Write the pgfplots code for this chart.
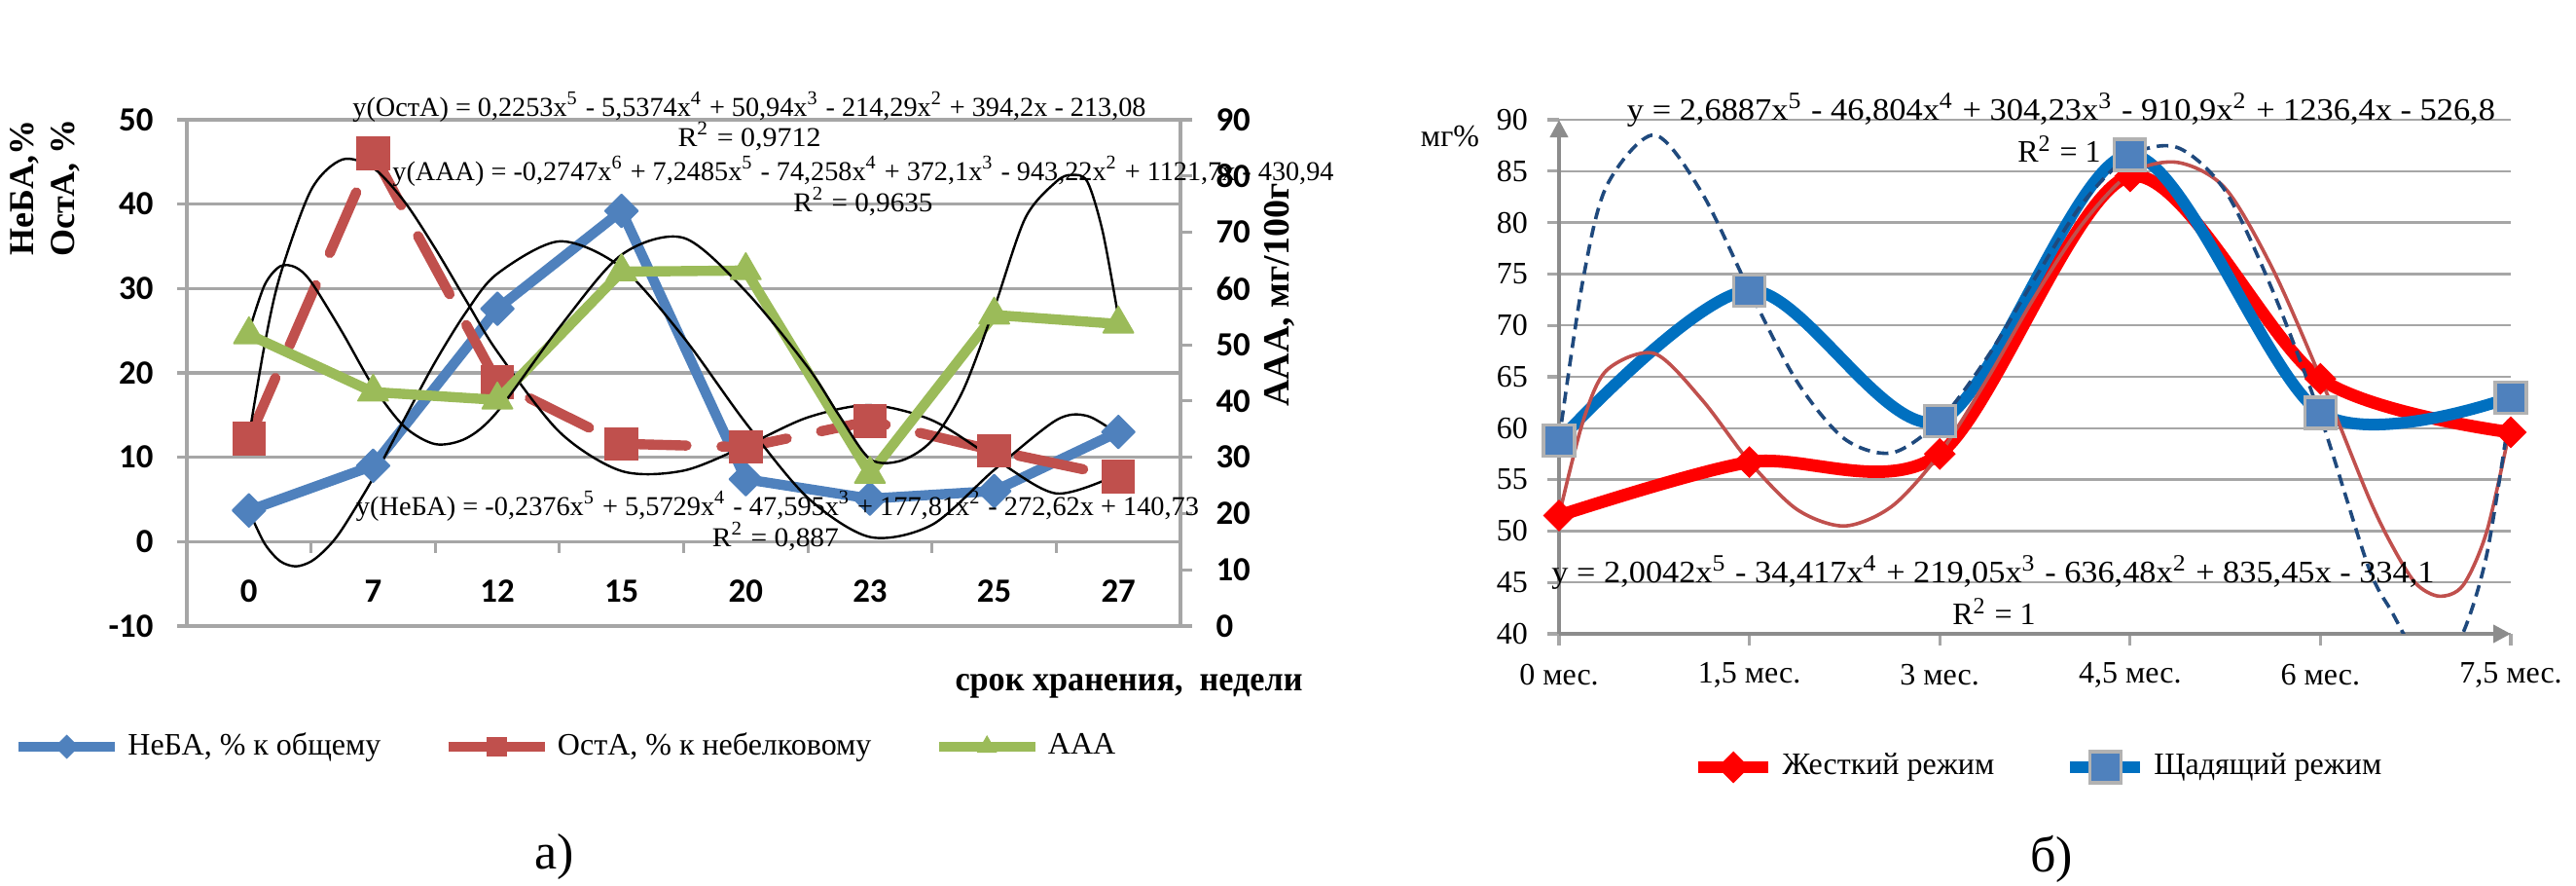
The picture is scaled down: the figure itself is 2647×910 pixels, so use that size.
\documentclass[border=0pt]{standalone}
\usepackage{pgfplots}
\pgfplotsset{compat=1.18}
\usepackage{fontspec}
\setmainfont{Liberation Serif}
\newfontfamily\calib{Carlito}
\usetikzlibrary{arrows.meta}
\definecolor{xblue}{HTML}{4F81BD}
\definecolor{xred}{HTML}{C0504D}
\definecolor{xgreen}{HTML}{9BBB59}
\definecolor{rred}{HTML}{FF0000}
\definecolor{rblue}{HTML}{0070C0}
\definecolor{navy}{HTML}{1F497D}
\definecolor{gridc}{HTML}{A6A6A6}
\definecolor{axisc}{HTML}{8C8C8C}
\newcommand{\fw}[2]{\resizebox{#1}{\height}{#2}}
\newcommand{\sq}[1]{\textsuperscript{#1}}
\begin{document}
\begin{tikzpicture}[x=0.25pt,y=0.25pt]
\path[use as bounding box] (0,0) rectangle (2647,910);

% ===== panel a, primary axis
\begin{axis}[
  at={(48pt,66.75pt)}, anchor=south west, scale only axis,
  width=255.25pt, height=130pt,
  xmin=-0.5, xmax=7.5, ymin=-10, ymax=50,
  axis x line*=bottom, axis y line*=left,
  axis line style={draw=gridc, line width=0.8pt},
  xtick={0,1,2,3,4,5,6,7}, xticklabels={0,7,12,15,20,23,25,27},
  ytick={-10,0,10,20,30,40,50},
  ymajorgrids, grid style={draw=gridc, line width=0.8pt},
  tick align=outside, major tick length=2.5pt,
  xtick style={draw=none}, ytick style={draw=gridc, line width=0.8pt},
  tick label style={font=\calib\bfseries\fontsize{8.7}{10}\selectfont},
  /pgf/number format/assume math mode=true,
  xticklabel style={anchor=center, yshift=11.5pt},
  yticklabel style={xshift=-2.6pt},
  clip=false,
  legend style={at={(-0.1753,-0.2385)}, anchor=west, draw=none, fill=none,
    inner sep=0pt, legend columns=3, font=\fontsize{8}{9.6}\selectfont,
    /tikz/every even column/.append style={column sep=14pt}},
  legend cell align=left,
  legend image code/.code={\draw[mark repeat=2,mark phase=2,#1] plot coordinates {(0pt,0pt) (12.4pt,0pt) (24.8pt,0pt)};},
]
% x axis line at 0 with boundary ticks
\draw[gridc, line width=0.8pt] (axis cs:-0.5,0) -- (axis cs:7.5,0);
\draw[gridc, line width=0.8pt] (axis cs:0.5,0) -- ++(0pt,-3pt);
\draw[gridc, line width=0.8pt] (axis cs:1.5,0) -- ++(0pt,-3pt);
\draw[gridc, line width=0.8pt] (axis cs:2.5,0) -- ++(0pt,-3pt);
\draw[gridc, line width=0.8pt] (axis cs:3.5,0) -- ++(0pt,-3pt);
\draw[gridc, line width=0.8pt] (axis cs:4.5,0) -- ++(0pt,-3pt);
\draw[gridc, line width=0.8pt] (axis cs:5.5,0) -- ++(0pt,-3pt);
\draw[gridc, line width=0.8pt] (axis cs:6.5,0) -- ++(0pt,-3pt);

\addplot[forget plot, xblue, line width=2.6pt, line join=round, mark=square*, mark size=3pt,
  mark options={rotate=45, solid, line width=0.4pt}]
  coordinates {(0,3.7) (1,9.0) (2,27.6) (3,39.2) (4,7.4) (5,5.1) (6,6.0) (7,13.0)};
\addplot[forget plot, xred, line width=2.6pt, line cap=round, dash pattern=on 17pt off 9pt,
  mark=square*, mark size=4.1pt, mark options={solid, line width=0.4pt}]
  coordinates {(0,12.2) (1,46.0) (2,18.9) (3,11.6) (4,11.2) (5,14.3) (6,10.8) (7,7.7)};
% trend lines
\addplot[forget plot, black, line width=0.6pt, smooth] coordinates {
 (0,3.66) (0.125,-0.20) (0.25,-2.30) (0.375,-2.93) (0.5,-2.35) (0.625,-0.81) (0.75,1.48)
 (1,7.53) (1.25,14.49) (1.5,21.31) (1.75,27.24) (2,31.76) (2.5,35.59) (3,32.49)
 (3.5,24.20) (4,14.07) (4.5,5.19) (5,0.55) (5.5,2.0) (6,8.5) (6.5,14.4) (6.75,14.9) (7,12.7)};
\addplot[forget plot, black, line width=0.6pt, smooth] coordinates {
 (0,12.46) (0.125,23.25) (0.25,31.50) (0.5,41.67) (0.75,45.28) (1,44.29) (1.25,40.34)
 (1.5,34.74) (1.75,28.54) (2,22.51) (2.5,13.00) (3,8.37) (3.5,8.42) (4,11.36) (4.5,14.73)
 (5,16.18) (5.5,14.39) (6,9.85) (6.5,5.71) (7,8.0)};

\addlegendimage{xblue, line width=2.6pt, mark=square*, mark size=2pt, mark options={rotate=45, line width=0.4pt}}
\addlegendentry{НеБА, \% к общему}
\addlegendimage{xred, line width=2.6pt, mark=square*, mark size=2.4pt, mark options={line width=0.4pt}}
\addlegendentry{ОстА, \% к небелковому}
\addlegendimage{xgreen, line width=2.6pt, mark=triangle*, mark size=2.6pt, mark options={line width=0.4pt}}
\addlegendentry{ААА}
\end{axis}

% ===== panel a, secondary axis
\begin{axis}[
  at={(48pt,66.75pt)}, anchor=south west, scale only axis,
  width=255.25pt, height=130pt,
  xmin=-0.5, xmax=7.5, ymin=0, ymax=90,
  axis x line=none, axis y line*=right,
  axis line style={draw=gridc, line width=0.8pt},
  ytick={0,10,20,30,40,50,60,70,80,90},
  tick align=outside, major tick length=3pt,
  ytick style={draw=gridc, line width=0.8pt},
  tick label style={font=\calib\bfseries\fontsize{8.7}{10}\selectfont},
  /pgf/number format/assume math mode=true,
  yticklabel style={xshift=2.6pt},
  clip=false,
]
\addplot[xgreen, line width=2.6pt, line join=round, mark=triangle*, mark size=4.5pt,
  mark options={solid, line width=0.4pt}]
  coordinates {(0,51.8) (1,41.6) (2,40.2) (3,63.0) (4,63.2) (5,27.0) (6,55.3) (7,53.7)};
\addplot[black, line width=0.6pt, smooth] coordinates {
 (0,52.36) (0.125,60.57) (0.25,63.94) (0.375,63.77) (0.5,61.19) (0.75,52.27) (1,42.62)
 (1.25,35.48) (1.5,32.34) (1.75,33.38) (2,38.11) (2.5,53.09) (3,66.0) (3.5,69.0)
 (4,59.5) (4.5,46.0) (4.75,37.5) (5,29.7) (5.25,29.4) (5.5,33.0) (5.75,41.9) (6,56.5)
 (6.25,72.5) (6.5,79.0) (6.625,80.2) (6.75,79.0) (6.875,70.0) (7,54.9)};
\end{axis}

% ===== panel b
\begin{axis}[
  at={(400.5pt,64.75pt)}, anchor=south west, scale only axis,
  width=244.5pt, height=132pt,
  xmin=0, xmax=5, ymin=40, ymax=90,
  axis lines*=left,
  axis line style={draw=axisc, line width=1pt, -{Triangle[length=4.5pt,width=4.5pt]}},
  xtick={0,1,2,3,4,5},
  xticklabels={0 мес.,{1,5 мес.},3 мес.,{4,5 мес.},6 мес.,{7,5 мес.}},
  ytick={40,45,...,90},
  ymajorgrids, grid style={draw=gridc, line width=0.6pt},
  tick align=outside, major tick length=3pt,
  tick style={draw=gridc, line width=0.8pt},
  tick label style={font=\fontsize{8}{9.6}\selectfont},
  /pgf/number format/assume math mode=true,
  xticklabel style={anchor=center, yshift=-7.5pt},
  yticklabel style={xshift=-1.5pt},
  legend style={at={(0.139,-0.2595)}, anchor=west, draw=none, fill=none, inner sep=0pt,
     legend columns=2, font=\fontsize{8}{9.6}\selectfont,
     /tikz/every even column/.append style={column sep=16pt}},
  legend cell align=left,
  legend image code/.code={\draw[mark repeat=2,mark phase=2,#1] plot coordinates {(0pt,0pt) (9pt,0pt) (18pt,0pt)};},
]
\addplot[rred, line width=3.2pt, smooth, mark=square*, mark size=2.7pt,
  mark options={rotate=45, line width=0.4pt}]
  coordinates {(0,51.5) (1,56.7) (2,57.5) (3,84.5) (4,64.8) (5,59.6)};
\addlegendentry{Жесткий режим}
\addplot[rblue, line width=3pt, smooth, mark=square*, mark size=4pt,
  mark options={fill=xblue, draw=gray!60, line width=0.8pt}]
  coordinates {(0,58.8) (1,73.4) (2,60.7) (3,86.6) (4,61.5) (5,63.0)};
\addlegendentry{Щадящий режим}
\addplot[forget plot, xred, line width=0.9pt, smooth] coordinates {
 (0,51.51) (0.125,60.61) (0.25,65.63) (0.5,67.27) (0.75,62.79) (1,56.74) (1.25,52.10)
 (1.5,50.49) (1.75,52.42) (2,57.52) (2.25,64.79) (2.5,72.81) (2.75,79.88) (3,84.77)
 (3.25,85.85) (3.5,83.33) (3.75,75.45) (4,64.90) (4.25,53.43) (4.375,48.63) (4.5,44.92)
 (4.625,43.66) (4.75,44.74) (4.875,50.03) (5,60.35)};
\addplot[forget plot, navy, line width=0.9pt, dash pattern=on 3pt off 1.8pt, smooth] coordinates {
 (0,58.81) (0.125,74.34) (0.25,83.56) (0.5,88.52) (0.75,82.91) (1,73.41) (1.25,64.54)
 (1.5,58.96) (1.75,57.61) (2,60.74) (2.25,66.91) (2.5,74.57) (2.75,81.88) (3,86.52)
 (3.25,87.29) (3.5,83.08) (3.75,73.33) (4,61.14) (4.25,46.61) (4.375,42.14) (4.5,38.16)
 (4.625,37.22) (4.75,40.14) (4.875,47.83) (5,62.23)};
\end{axis}

% ===== texts panel a
\node[rotate=90, font=\bfseries\fontsize{9}{10}\selectfont] at (25,717) {НеБА,\%};
\node[rotate=90, font=\bfseries\fontsize{9}{10}\selectfont] at (67,717) {ОстА, \%};
\node[rotate=90, font=\bfseries\fontsize{9.5}{10}\selectfont] at (1315,607) {ААА, мг/100г};
\node[font=\bfseries\fontsize{9}{10}\selectfont] at (1160,205) {\fw{89.25pt}{срок хранения,\ \ недели}};
\node[font=\fontsize{7}{8}\selectfont] at (770,800) {\fw{203.75pt}{y(ОстА) = 0,2253x\sq{5} - 5,5374x\sq{4} + 50,94x\sq{3} - 214,29x\sq{2} + 394,2x - 213,08}};
\node[font=\fontsize{7}{8}\selectfont] at (770,770) {\fw{36.75pt}{R\sq{2} = 0,9712}};
\node[font=\fontsize{7}{8}\selectfont] at (887,734) {\fw{241.75pt}{y(ААА) = -0,2747x\sq{6} + 7,2485x\sq{5} - 74,258x\sq{4} + 372,1x\sq{3} - 943,22x\sq{2} + 1121,7x - 430,94}};
\node[font=\fontsize{7}{8}\selectfont] at (887,703) {\fw{35.75pt}{R\sq{2} = 0,9635}};
\node[font=\fontsize{7}{8}\selectfont] at (799,390) {\fw{216.5pt}{y(НеБА) = -0,2376x\sq{5} + 5,5729x\sq{4} - 47,595x\sq{3} + 177,81x\sq{2} - 272,62x + 140,73}};
\node[font=\fontsize{7}{8}\selectfont] at (797,359) {\fw{32.5pt}{R\sq{2} = 0,887}};
\node[font=\fontsize{13}{15}\selectfont] at (570,30) {а)};

% ===== texts panel b
\node[font=\fontsize{8}{9}\selectfont] at (2118,797) {\fw{223pt}{y = 2,6887x\sq{5} - 46,804x\sq{4} + 304,23x\sq{3} - 910,9x\sq{2} + 1236,4x - 526,8}};
\node[font=\fontsize{8}{9}\selectfont] at (2116,757) {R\sq{2} = 1};
\node[font=\fontsize{8}{9}\selectfont] at (2048,322) {\fw{226.75pt}{y = 2,0042x\sq{5} - 34,417x\sq{4} + 219,05x\sq{3} - 636,48x\sq{2} + 835,45x - 334,1}};
\node[font=\fontsize{8}{9}\selectfont] at (2049,282) {R\sq{2} = 1};
\node[font=\fontsize{8}{9}\selectfont] at (1490,770) {мг\%};
\node[font=\fontsize{13}{15}\selectfont] at (2108,28) {б)};
\end{tikzpicture}
\end{document}
